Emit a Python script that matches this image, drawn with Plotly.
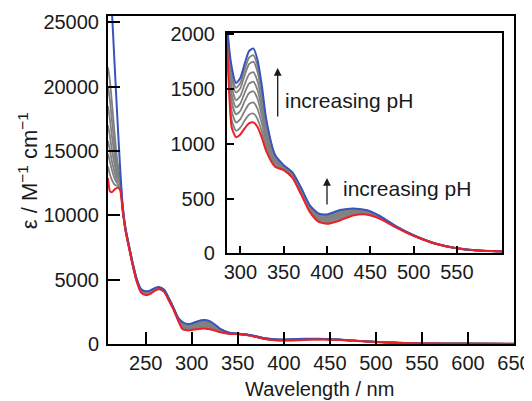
import plotly.graph_objects as go

# ---- data ----
wavelength = [209, 211, 213, 216, 219, 222, 225,
              228, 232, 236, 240, 245, 250, 255, 260, 265, 270, 275, 280, 285,
              290, 295, 300, 305, 310, 315, 320, 325, 330,
              340, 350, 360, 370, 380, 390, 400,
              415, 430, 445, 460,
              480, 500, 525, 550, 575, 600, 650]

eps_high_pH = [31000, 28500, 26200, 22000, 17800, 13900, 10700,
               9000, 7600, 6250, 5100, 4250, 4100, 4170, 4350, 4420, 4230, 3580, 2850, 2060,
               1700, 1555, 1600, 1730, 1845, 1870, 1760, 1520, 1220,
               900, 805, 740, 600, 440, 365, 355,
               395, 410, 395, 345,
               245, 165, 90, 47, 26, 18, 10]

eps_g1 = [21500, 20500, 19000, 16500, 14300, 12900, 10650,
          8982, 7582, 6232, 5082, 4228, 4073, 4146, 4332, 4405, 4214, 3564, 2837, 2041,
          1650, 1510, 1554, 1677, 1786, 1809, 1705, 1478, 1194,
          890, 801, 736, 595, 435, 358, 347,
          386, 404, 391, 343,
          244, 165, 90, 47, 26, 18, 10]
eps_g2 = [20000, 19000, 17600, 15500, 13700, 12800, 10600,
          8964, 7564, 6214, 5064, 4205, 4046, 4121, 4314, 4389, 4198, 3548, 2823, 2022,
          1601, 1466, 1507, 1624, 1726, 1749, 1650, 1435, 1168,
          880, 797, 731, 589, 429, 352, 340,
          378, 398, 388, 341,
          243, 164, 90, 47, 26, 18, 10]
eps_g3 = [18500, 17500, 16300, 14700, 13300, 12700, 10550,
          8936, 7536, 6186, 5036, 4170, 4004, 4084, 4286, 4366, 4172, 3522, 2802, 1993,
          1524, 1397, 1435, 1541, 1634, 1654, 1565, 1370, 1127,
          865, 791, 724, 581, 421, 341, 328,
          365, 389, 382, 337,
          242, 163, 89, 46, 26, 18, 10]
eps_g4 = [17000, 16200, 15200, 14000, 13000, 12600, 10500,
          8910, 7510, 6160, 5010, 4138, 3965, 4049, 4260, 4344, 4149, 3499, 2783, 1966,
          1452, 1332, 1368, 1465, 1548, 1566, 1486, 1309, 1090,
          851, 785, 718, 573, 413, 331, 317,
          352, 381, 377, 334,
          241, 163, 89, 46, 25, 18, 10]
eps_g5 = [15800, 15100, 14300, 13400, 12700, 12500, 10450,
          8884, 7484, 6134, 4984, 4105, 3926, 4013, 4234, 4321, 4126, 3476, 2763, 1938,
          1381, 1268, 1301, 1388, 1462, 1479, 1406, 1247, 1052,
          836, 779, 711, 565, 405, 322, 306,
          340, 372, 372, 331,
          239, 162, 89, 46, 25, 18, 10]
eps_g6 = [14800, 14200, 13600, 12900, 12500, 12300, 10400,
          8854, 7454, 6104, 4954, 4068, 3881, 3973, 4204, 4296, 4099, 3449, 2741, 1907,
          1298, 1194, 1224, 1299, 1363, 1377, 1315, 1177, 1008,
          820, 772, 704, 556, 396, 310, 293,
          326, 363, 366, 327,
          238, 161, 88, 45, 25, 18, 10]
eps_g7 = [13800, 13200, 12800, 12400, 12300, 12200, 10350,
          8824, 7424, 6074, 4924, 4030, 3836, 3932, 4174, 4270, 4072, 3422, 2718, 1875,
          1216, 1119, 1147, 1211, 1264, 1276, 1223, 1106, 965,
          803, 765, 696, 547, 387, 299, 280,
          311, 353, 360, 323,
          236, 161, 88, 45, 25, 18, 10]

eps_low_pH = [12900, 11900, 11800, 12000, 12150, 12000, 10300,
              8800, 7400, 6050, 4900, 4000, 3800, 3900, 4150, 4250, 4050, 3400, 2700, 1850,
              1150, 1060, 1085, 1140, 1185, 1195, 1150, 1050, 930,
              790, 760, 690, 540, 380, 290, 270,
              300, 345, 355, 320,
              235, 160, 88, 45, 25, 18, 10]

gray_series = [eps_g1, eps_g2, eps_g3, eps_g4, eps_g5, eps_g6, eps_g7]

main_x_ticks = [250, 300, 350, 400, 450, 500, 550, 600, 650]
main_y_ticks = [0, 5000, 10000, 15000, 20000, 25000]
main_y_labels = ["0", "5000", "10000", "15000", "20000", "25000"]
inset_x_ticks = [300, 350, 400, 450, 500, 550]
inset_y_ticks = [0, 500, 1000, 1500, 2000]
inset_y_labels = ["0", "500", "1000", "1500", "2000"]

GRAY = "rgb(128,128,128)"
BLUE = "rgb(58,84,186)"
RED = "rgb(236,32,38)"
FONT = "Liberation Sans, Arial, sans-serif"
TXT = "#1a1a1a"

fig = go.Figure()

for xa, ya in [("x", "y"), ("x2", "y2")]:
    for g in gray_series:
        fig.add_trace(go.Scatter(x=wavelength, y=g, mode="lines", xaxis=xa, yaxis=ya,
                                 line=dict(color=GRAY, width=1.8, shape="spline", smoothing=0.6),
                                 showlegend=False, hoverinfo="skip"))
    fig.add_trace(go.Scatter(x=wavelength, y=eps_high_pH, mode="lines", xaxis=xa, yaxis=ya,
                             line=dict(color=BLUE, width=2, shape="spline", smoothing=0.6),
                             showlegend=False, hoverinfo="skip"))
    fig.add_trace(go.Scatter(x=wavelength, y=eps_low_pH, mode="lines", xaxis=xa, yaxis=ya,
                             line=dict(color=RED, width=2, shape="spline", smoothing=0.6),
                             showlegend=False, hoverinfo="skip"))

axis_common = dict(showgrid=False, zeroline=False, showline=True, linecolor="black",
                   linewidth=2, mirror=True, ticks="inside", tickcolor="black",
                   automargin=False,
                   tickfont=dict(family=FONT, size=20, color=TXT))

# the page body adds an 8 px offset, so the figure is 8 px smaller on each side
fig.update_layout(
    width=524, height=393,
    margin=dict(l=100, r=18, t=8, b=57, pad=0, autoexpand=False),
    paper_bgcolor="white", plot_bgcolor="white",
    xaxis=dict(range=[209, 650], tickvals=main_x_ticks, ticklen=12, tickwidth=2,
               **axis_common),
    yaxis=dict(range=[0, 25500], tickvals=main_y_ticks, ticktext=main_y_labels,
               ticklen=12, tickwidth=2, ticklabelstandoff=3, **axis_common),
    xaxis2=dict(domain=[0.2931, 0.9704], anchor="y2", range=[284.6, 602],
                tickvals=inset_x_ticks, ticklen=7, tickwidth=2,
                **axis_common),
    yaxis2=dict(domain=[0.2765, 0.948], anchor="x2", range=[0, 2010],
                tickvals=inset_y_ticks, ticktext=inset_y_labels,
                ticklen=7, tickwidth=2, ticklabelstandoff=6, **axis_common),
)

annots = [
    dict(text="Wavelength / nm", x=0.522, y=-0.137, xref="paper", yref="paper",
         showarrow=False, font=dict(family=FONT, size=20, color=TXT),
         xanchor="center", yanchor="middle"),
    dict(text="ε / M<sup>−1</sup> cm<sup>−1</sup>", x=-0.197, y=0.527, xref="paper", yref="paper",
         showarrow=False, textangle=-90, font=dict(family=FONT, size=22, color=TXT),
         xanchor="center", yanchor="middle"),
    dict(text="increasing pH", x=0.4318, y=0.7439, xref="paper", yref="paper",
         showarrow=False, font=dict(family=FONT, size=21, color=TXT),
         xanchor="left", yanchor="middle"),
    dict(text="increasing pH", x=0.5739, y=0.4726, xref="paper", yref="paper",
         showarrow=False, font=dict(family=FONT, size=21, color=TXT),
         xanchor="left", yanchor="middle"),
    dict(text="", x=0.418, y=0.8415, xref="paper", yref="paper", showarrow=True,
         ax=0, ay=50, arrowhead=2, arrowsize=1.2, arrowwidth=1.3, arrowcolor=TXT),
    dict(text="", x=0.5394, y=0.506, xref="paper", yref="paper", showarrow=True,
         ax=0, ay=28, arrowhead=2, arrowsize=1.2, arrowwidth=1.3, arrowcolor=TXT),
]
fig.update_layout(annotations=annots)

fig.write_html("out.html")
